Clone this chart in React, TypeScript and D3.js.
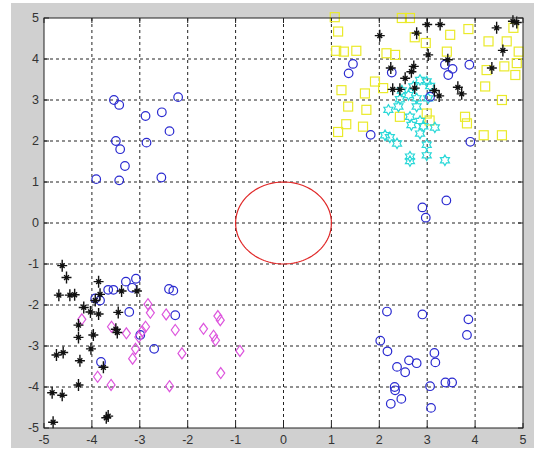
import React from "react";
import * as d3 from "d3";

// Axis limits and tick values
const xTicks = [-5, -4, -3, -2, -1, 0, 1, 2, 3, 4, 5];
const yTicks = [-5, -4, -3, -2, -1, 0, 1, 2, 3, 4, 5];

// Class samples, [x, y]
const blueCircles: [number, number][] = [
  [-3.54, 3.0], [-3.43, 2.88], [-2.88, 2.61], [-2.54, 2.7], [-2.2, 3.07], [-2.38, 2.24],
  [-3.5, 2.0], [-3.41, 1.8], [-2.86, 1.96], [-3.31, 1.39], [-3.91, 1.07], [-3.43, 1.04], [-2.55, 1.11],
  [-3.93, -1.84], [-3.83, -1.89], [-3.66, -1.63], [-3.55, -1.63], [-3.29, -1.43], [-3.08, -1.36],
  [-3.16, -1.58], [-2.39, -1.61], [-2.3, -1.65], [-3.22, -2.17], [-2.26, -2.25], [-2.99, -2.73],
  [-2.7, -3.07], [-3.81, -3.39],
  [1.45, 3.88], [1.36, 3.65], [2.26, 3.67], [3.37, 3.86], [3.53, 3.76], [3.44, 3.61], [3.88, 3.86],
  [3.06, 3.08], [1.82, 2.15], [3.9, 1.98],
  [3.4, 0.55], [2.9, 0.38], [2.97, 0.13], [2.16, -2.16], [2.9, -2.23], [3.86, -2.35], [3.83, -2.73],
  [2.02, -2.87], [2.17, -3.13], [3.15, -3.17], [3.17, -3.4], [2.62, -3.35], [2.78, -3.42],
  [2.37, -3.51], [2.54, -3.64], [2.32, -4.0], [2.33, -4.08], [3.06, -3.98], [3.38, -3.89],
  [3.52, -3.89], [2.46, -4.29], [2.24, -4.41], [3.08, -4.51],
];

const blackStars: [number, number][] = [
  [-4.62, -1.04], [-4.53, -1.33], [-4.69, -1.76], [-4.46, -1.76], [-4.36, -1.75], [-3.86, -1.43],
  [-3.83, -1.74], [-3.93, -1.89], [-4.17, -2.06], [-4.03, -2.17], [-3.86, -2.22], [-3.45, -2.18],
  [-3.47, -2.67], [-3.5, -2.59], [-3.06, -1.66], [-3.38, -1.66], [-4.28, -2.49], [-4.28, -2.79],
  [-3.97, -2.73], [-4.02, -3.07], [-4.74, -3.22], [-4.6, -3.16], [-4.25, -3.36], [-3.76, -3.52],
  [-4.28, -3.95], [-4.83, -4.14], [-4.62, -4.2], [-3.66, -4.71], [-3.7, -4.75], [-4.81, -4.86],
  [2.01, 4.57], [2.78, 4.63], [3.0, 4.84], [3.27, 4.84], [4.45, 4.76], [4.79, 4.92], [4.87, 4.89],
  [4.58, 4.21], [3.02, 4.1], [3.43, 3.98], [4.35, 3.78], [2.24, 3.78], [2.72, 3.82], [2.67, 3.69],
  [2.54, 3.53], [2.28, 3.26], [2.43, 3.26], [2.74, 3.29], [3.15, 3.23], [3.25, 3.1], [3.64, 3.31],
  [3.72, 3.15],
];

const magentaDiamonds: [number, number][] = [
  [-4.21, -2.35], [-3.59, -2.53], [-3.28, -2.69], [-2.83, -1.98], [-2.78, -2.19], [-2.88, -2.53],
  [-2.95, -2.64], [-3.02, -2.78], [-2.45, -2.23], [-2.26, -2.61], [-3.09, -3.07], [-3.15, -3.31],
  [-2.12, -3.18], [-2.38, -3.98], [-3.6, -3.95], [-3.88, -3.75], [-1.67, -2.58], [-1.46, -2.75],
  [-1.42, -2.86], [-1.37, -2.27], [-1.32, -2.37], [-1.31, -3.66], [-0.91, -3.12],
];

const yellowSquares: [number, number][] = [
  [1.07, 5.02], [1.14, 4.67], [2.47, 5.0], [2.64, 5.0], [2.74, 4.53], [2.97, 4.39], [3.48, 4.59],
  [3.86, 4.73], [4.8, 4.76], [4.28, 4.43], [4.66, 4.43], [4.91, 4.18], [4.87, 3.9], [4.24, 3.73],
  [4.61, 3.82], [4.84, 3.61], [1.1, 4.2], [1.26, 4.18], [1.52, 4.2], [2.15, 4.14], [2.33, 4.1],
  [3.41, 4.18], [1.91, 3.45], [2.08, 3.29], [1.21, 3.24], [1.7, 3.16], [1.35, 2.84], [1.73, 2.76],
  [2.43, 2.59], [1.31, 2.41], [1.14, 2.22], [1.66, 2.35], [3.79, 2.59], [3.83, 2.43], [4.18, 2.14],
  [4.56, 2.14], [4.56, 3.0], [2.99, 2.67], [4.21, 3.33], [3.05, 2.5],
];

const cyanHexagrams: [number, number][] = [
  [2.99, 3.45], [3.06, 3.34], [2.85, 3.49], [2.71, 3.33], [2.47, 3.23], [2.61, 3.12], [2.43, 3.02],
  [2.78, 3.04], [3.02, 3.04], [2.4, 2.84], [2.19, 2.76], [2.78, 2.84], [2.64, 2.59], [2.85, 2.49],
  [2.67, 2.39], [2.92, 2.36], [3.16, 2.33], [2.85, 2.18], [2.12, 2.14], [2.22, 2.09], [2.37, 1.94],
  [2.64, 1.62], [2.64, 1.51], [2.99, 1.65], [3.37, 1.53], [2.99, 1.91],
];

// Unit circle
const circleAngles = d3.range(0, 361, 3).map((d) => (d * Math.PI) / 180);

const W = 534;
const H = 458;
const x = d3.scaleLinear().domain([-5, 5]).range([44, 523]);
const y = d3.scaleLinear().domain([-5, 5]).range([428, 18]);

const hexPath = (() => {
  const R = 5.2;
  const r = R / Math.sqrt(3);
  const pts = d3.range(12).map((i) => {
    const a = -Math.PI / 2 + (i * Math.PI) / 6;
    const rad = i % 2 === 0 ? R : r;
    return [rad * Math.cos(a), rad * Math.sin(a)];
  });
  return "M" + pts.map((p) => p.join(",")).join("L") + "Z";
})();

const starPath = "M-5,0L5,0M0,-6L0,6M-2.4,-2.4L2.4,2.4M-2.4,2.4L2.4,-2.4";
const diamondPath = "M0,-5.5L4,0L0,5.5L-4,0Z";

export default function App() {
  const circleLine = d3
    .line<number>()
    .x((a) => x(Math.cos(a)))
    .y((a) => y(Math.sin(a)));

  const [x0, x1] = x.range();
  const [y0, y1] = y.range();

  return (
    <svg
      width={W}
      height={H}
      style={{ position: "absolute", left: 0, top: 0 }}
      fontFamily="'Liberation Sans', Arial, sans-serif"
    >
      <rect x={0} y={0} width={W} height={H} fill="#ffffff" />
      <rect x={11} y={3} width={523} height={445} fill="#d0d0d0" />
      <rect x={x0} y={y1} width={x1 - x0} height={y0 - y1} fill="#ffffff" />

      {/* grid */}
      <g stroke="#222" strokeWidth={1} strokeDasharray="3,3">
        {xTicks.slice(1, -1).map((t) => (
          <line key={"gx" + t} x1={x(t)} x2={x(t)} y1={y1} y2={y0} />
        ))}
        {yTicks.slice(1, -1).map((t) => (
          <line key={"gy" + t} x1={x0} x2={x1} y1={y(t)} y2={y(t)} />
        ))}
      </g>

      {/* tick marks */}
      <g stroke="#222" strokeWidth={1}>
        {xTicks.map((t) => (
          <g key={"tx" + t}>
            <line x1={x(t)} x2={x(t)} y1={y0} y2={y0 - 5} />
            <line x1={x(t)} x2={x(t)} y1={y1} y2={y1 + 5} />
          </g>
        ))}
        {yTicks.map((t) => (
          <g key={"ty" + t}>
            <line x1={x0} x2={x0 + 5} y1={y(t)} y2={y(t)} />
            <line x1={x1} x2={x1 - 5} y1={y(t)} y2={y(t)} />
          </g>
        ))}
      </g>

      {/* samples */}
      <g fill="none" stroke="#eaea2a" strokeWidth={1.2}>
        {yellowSquares.map(([a, b], i) => (
          <rect key={"s" + i} x={x(a) - 4.5} y={y(b) - 4.5} width={9} height={9} />
        ))}
      </g>
      <g fill="none" stroke="#2ad8d8" strokeWidth={1.2}>
        {cyanHexagrams.map(([a, b], i) => (
          <path key={"h" + i} d={hexPath} transform={`translate(${x(a)},${y(b)})`} />
        ))}
      </g>
      <g fill="none" stroke="#2a2ad0" strokeWidth={1.2}>
        {blueCircles.map(([a, b], i) => (
          <circle key={"c" + i} cx={x(a)} cy={y(b)} r={4.3} />
        ))}
      </g>
      <g fill="none" stroke="#dd55dd" strokeWidth={1.2}>
        {magentaDiamonds.map(([a, b], i) => (
          <path key={"d" + i} d={diamondPath} transform={`translate(${x(a)},${y(b)})`} />
        ))}
      </g>
      <g fill="none" stroke="#111" strokeWidth={1.4}>
        {blackStars.map(([a, b], i) => (
          <path key={"k" + i} d={starPath} transform={`translate(${x(a)},${y(b)})`} />
        ))}
      </g>

      <path d={circleLine(circleAngles) || ""} fill="none" stroke="#e02828" strokeWidth={1.2} />

      {/* axes box */}
      <rect x={x0} y={y1} width={x1 - x0} height={y0 - y1} fill="none" stroke="#222" strokeWidth={1} />

      {/* tick labels */}
      <g fontSize={12.5} fill="#333">
        {xTicks.map((t) => (
          <text key={"lx" + t} x={x(t)} y={y0 + 16} textAnchor="middle">
            {String(t)}
          </text>
        ))}
        {yTicks.map((t) => (
          <text key={"ly" + t} x={x0 - 5} y={y(t) + 4} textAnchor="end">
            {String(t)}
          </text>
        ))}
      </g>
    </svg>
  );
}
